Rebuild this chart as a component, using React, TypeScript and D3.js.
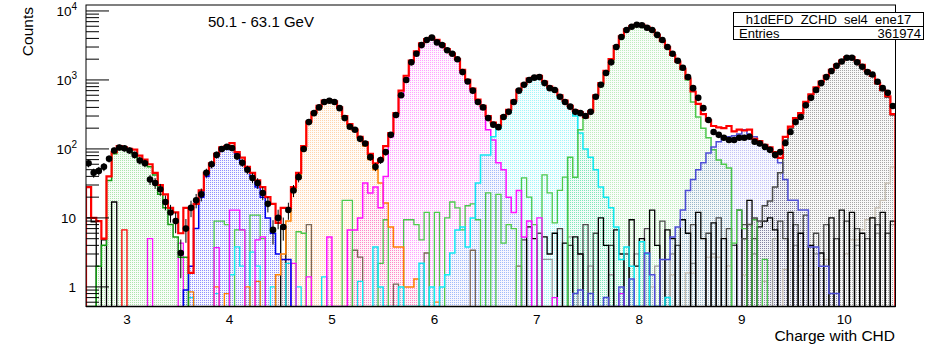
import * as d3 from "d3";
import React from "react";

// binning of the charge axis
const X_MIN = 2.6;
const BIN_W = 0.05;
const N_BINS = 158;

// data points (black markers)
const dataCounts = [
  62, 45, 48, 55, 72, 95, 105, 102, 95, 82, 68, 62, 36, 32, 26, 17, 12, 9, 3.1, 7,
  14, 18, 22, 45, 60, 82, 100, 107, 103, 78, 63, 50, 38, 32, 23, 16, 6.7, 10, 7.4, 13,
  25, 39, 100, 245, 330, 400, 480, 500, 480, 390, 280, 210, 190, 140, 120, 76, 55, 69, 90, 160,
  310, 600, 1000, 1800, 2400, 3200, 3800, 4100, 3500, 3200, 2700, 2400, 2000, 1300, 950, 700, 480, 400, 280, 225,
  207, 290, 345, 480, 700, 850, 1000, 1080, 1100, 900, 760, 716, 570, 480, 410, 345, 330, 300, 345, 570,
  850, 1260, 1800, 3000, 4200, 5300, 5900, 6300, 6200, 5700, 5300, 4500, 3800, 3000, 2400, 1900, 1500, 1100, 760, 550,
  390, 263, 176, 160, 145, 135, 135, 145, 145, 150, 127, 120, 107, 97, 82, 90, 122, 176, 245, 290,
  430, 550, 716, 900, 1100, 1350, 1600, 1850, 2100, 2100, 1800, 1550, 1300, 1200, 940, 760, 650, 420,
];

// total of the templates (red line)
const totalCounts = [
  28, 10, 9, 5, 40, 90, 110, 105, 100, 98, 80, 70, 60, 45, 30, 22, 14, 12, 6, 14,
  1.6, 16, 25, 45, 62, 85, 105, 110, 122, 90, 75, 55, 45, 35, 28, 20, 16, 8.5, 14, 14,
  28, 45, 110, 250, 340, 420, 500, 510, 490, 400, 300, 230, 190, 150, 125, 85, 62, 70, 110, 170,
  330, 700, 1150, 1900, 2600, 3400, 3900, 4100, 3800, 3300, 2800, 2400, 2000, 1400, 1000, 750, 520, 420, 300, 240,
  220, 300, 370, 500, 720, 880, 1050, 1100, 1150, 950, 800, 720, 600, 500, 420, 360, 340, 290, 350, 600,
  900, 1350, 2000, 3100, 4300, 5400, 6000, 6300, 6300, 5900, 5300, 4500, 3700, 3000, 2300, 1850, 1450, 1050, 680, 450,
  320, 260, 215, 205, 200, 215, 180, 190, 185, 190, 140, 130, 115, 105, 90, 74, 150, 210, 280, 330,
  480, 620, 780, 950, 1150, 1400, 1650, 1900, 2150, 2150, 1900, 1650, 1350, 1150, 900, 720, 580, 320,
];

// charge templates: first bin index + counts
const z3Start = 0;
const z3Counts = [0, 0, 2, 4, 35, 85, 100, 98, 95, 85, 70, 65, 55, 42, 22, 14, 8, 5.3, 2.7, 2.7];
const z4Start = 19;
const z4Counts = [0.9, 2, 7, 20, 40, 58, 80, 98, 105, 100, 85, 65, 52, 40, 28, 20, 10, 6, 3, 2.5, 2.5];
const z5Start = 37;
const z5Counts = [1.5, 3, 9, 25, 38, 100, 240, 330, 400, 480, 500, 480, 390, 280, 215, 185, 140, 110, 70, 50, 32, 16.5, 7.4, 3.8, 3.8, 1, 1, 1.3];
const z6Start = 47;
const z6Counts = [
  5.3, 0, 0, 0, 6.7, 6.7, 10, 32, 23, 28, 14, 40, 150, 300, 600, 1050, 1800, 2500, 3300, 3800,
  4000, 3700, 3200, 2700, 2350, 1950, 1300, 950, 700, 480, 380, 189, 135, 63, 50, 20, 12, 25, 5.3, 9,
];
const z7Start = 56;
const z7Counts = [
  3.8, 1, 0, 0, 0, 1, 0, 0, 0, 2.2, 0, 1, 0, 1, 1.5, 3.1, 6.7, 7.4, 3.8, 10,
  32, 82, 82, 150, 200, 280, 340, 470, 700, 840, 1000, 1080, 1100, 900, 750, 700, 560, 470, 400, 300,
  170, 100, 76, 50, 28, 20, 14, 7.4, 2.5, 3.8, 2, 0, 4.5, 3, 0, 0, 0, 0.7,
];
const z8Start = 94;
const z8Counts = [
  76, 39, 190, 280, 345, 570, 850, 1260, 1800, 3000, 4200, 5300, 5900, 6300, 6200, 5700, 5200, 4400, 3600, 2900,
  2300, 1800, 1400, 1000, 480, 290, 200, 145, 97, 69, 60, 53,
];
const z9Start = 95;
const z9Counts = [
  0.8, 0.9, 0, 0.8, 0, 0, 0.7, 0, 0, 1, 0, 1.3, 0, 0, 3.1, 1.5, 0, 2.5, 2.5, 5.3,
  7.4, 13, 25, 36, 50, 63, 87, 107, 127, 145, 150, 155, 165, 190, 165, 150, 125, 114, 100, 87,
  63, 36, 18, 18, 13, 13, 3.8, 3.8, 2, 2, 0.8, 0.8,
];
const z10Start = 128;
const z10Counts = [
  5, 8, 10, 9, 15, 17.6, 28, 45, 135, 200, 270, 320, 470, 610, 770, 940, 1130, 1380, 1630, 1880,
  2130, 2130, 1880, 1630, 1330, 1130, 880, 700, 560, 310,
];

// small contributions: [bin index, counts]
const noiseBlack: [number, number][] = [
  [0, 10], [1, 8.8], [3, 4.8], [5, 17], [38, 7.4], [86, 7.4], [87, 5], [89, 5.3], [90, 3], [91, 6], [93, 4.3],
  [95, 5.3], [96, 3], [100, 10], [101, 4], [103, 6.7], [104, 3], [106, 9.4], [107, 2], [108, 5], [110, 13],
  [111, 4], [113, 6.7], [114, 5], [116, 9.4], [117, 6], [119, 12], [120, 5], [122, 8.5], [124, 5], [127, 13],
  [129, 18], [131, 7.4], [132, 9], [133, 10], [134, 6.7], [137, 12], [139, 6], [141, 4], [143, 3.1], [145, 10],
  [147, 13], [149, 12], [151, 6], [153, 10], [155, 12], [157, 9],
];
const noiseDark: [number, number][] = [
  [85, 4.8], [88, 6], [92, 7], [94, 4], [97, 8], [99, 6], [102, 4], [105, 3], [109, 7], [112, 9], [115, 4],
  [118, 8], [121, 6], [123, 10], [125, 7], [126, 4], [128, 8], [130, 5], [135, 9], [136, 5], [138, 8], [140, 11],
  [142, 6], [144, 8], [146, 5], [148, 9], [150, 7], [152, 5], [154, 8], [156, 6],
];
const noiseBrown: [number, number][] = [[43, 8], [52, 3.4], [53, 2.7], [60, 1.1], [66, 3.1], [75, 3.4], [84, 2]];
const noiseGray: [number, number][] = [
  [89, 2.5], [90, 2.5], [94, 5.3], [96, 3], [98, 2], [102, 1.5], [107, 3], [111, 2], [114, 3], [118, 2.2],
  [122, 3], [126, 4], [130, 3], [134, 5], [138, 4], [142, 3], [146, 5], [150, 4], [154, 6], [157, 8],
];
const noiseBeige: [number, number][] = [
  [110, 1], [114, 1.5], [117, 1.6], [118, 1.6], [121, 2.7], [122, 2.7], [123, 2.7], [125, 2], [128, 1.5],
  [132, 1.2], [136, 1.8], [139, 2], [141, 1.5], [144, 2.5], [148, 3], [149, 4.8], [150, 4.8], [151, 6.7],
  [152, 9.4], [153, 10], [154, 14], [155, 18], [156, 32], [157, 55],
];
const noiseGreen: [number, number][] = [
  [25, 9], [26, 9], [27, 8], [29, 6.7], [30, 6.7], [32, 11], [33, 11], [34, 5], [41, 6.3], [42, 6], [50, 18],
  [51, 18], [57, 2.2], [58, 9.4], [62, 9.4], [63, 9.4], [64, 8], [65, 4.8], [66, 12], [68, 12], [70, 10],
  [71, 17], [72, 14], [73, 6.7], [74, 15], [75, 16], [76, 9.4], [78, 23], [80, 22], [81, 4.3], [82, 8], [83, 7],
  [85, 38], [86, 20], [87, 8], [89, 42], [90, 23], [91, 8.5], [92, 25], [93, 39], [126, 4.3], [127, 13],
  [128, 7], [130, 9.4], [132, 2.5],
];
const noiseMagenta: [number, number][] = [
  [12, 5], [18, 4.3], [25, 3.7], [28, 13], [29, 13], [30, 6.7], [33, 4.8], [34, 5.3], [40, 2.2], [43, 1.4],
  [88, 10], [91, 0.7], [104, 0.8],
];
const noiseCyan: [number, number][] = [
  [20, 0.7], [25, 0.8], [28, 1.5], [29, 3.8], [30, 2], [32, 3.2], [33, 2], [36, 1], [39, 2.2], [41, 1], [46, 1.4], [53, 1.2],
];
const noiseOrange: [number, number][] = [[20, 0.85], [25, 1], [27, 0.8], [31, 1], [33, 1.2], [68, 0.6]];
const noiseRed: [number, number][] = [[7, 6.7]];

const xTicks = [3, 4, 5, 6, 7, 8, 9, 10];
const yMajor = [1, 10, 100, 1000, 10000];
const yMinorMult = [2, 3, 4, 5, 6, 7, 8, 9];

const W = 925, H = 348;
const frame = { left: 86, right: 895.5, top: 5, bottom: 306.5 };

const x = d3.scaleLinear().domain([X_MIN, X_MIN + BIN_W * N_BINS]).range([frame.left, frame.right]);
const y = d3.scaleLog().domain([0.52, 12200]).range([frame.bottom, frame.top]);
const edge = (i: number) => x(X_MIN + i * BIN_W);
const yc = (v: number) => (v > 0 ? Math.min(y(v), frame.bottom) : frame.bottom);

function stepPath(start: number, counts: number[], closed: boolean) {
  let d = `M${edge(start)},${frame.bottom}`;
  counts.forEach((c, k) => {
    const yy = yc(c);
    d += `L${edge(start + k)},${yy}L${edge(start + k + 1)},${yy}`;
  });
  d += `L${edge(start + counts.length)},${frame.bottom}`;
  return closed ? d + "Z" : d;
}

function sparsePaths(pairs: [number, number][]) {
  const sorted = [...pairs].sort((a, b) => a[0] - b[0]);
  const runs: { start: number; counts: number[] }[] = [];
  sorted.forEach(([i, v]) => {
    const last = runs[runs.length - 1];
    if (last && last.start + last.counts.length === i) last.counts.push(v);
    else runs.push({ start: i, counts: [v] });
  });
  return runs.map(r => stepPath(r.start, r.counts, false));
}

const components = [
  { id: "z3", start: z3Start, counts: z3Counts, fill: "#20b820", line: "#109a10", dot: 0.35 },
  { id: "z4", start: z4Start, counts: z4Counts, fill: "#0000ff", line: "#0000ee", dot: 0.42 },
  { id: "z5", start: z5Start, counts: z5Counts, fill: "#ff8a1a", line: "#ff8000", dot: 0.35 },
  { id: "z6", start: z6Start, counts: z6Counts, fill: "#ff00ff", line: "#ff10ff", dot: 0.35 },
  { id: "z7", start: z7Start, counts: z7Counts, fill: "#00e8f0", line: "#10e8f2", dot: 0.35 },
  { id: "z8", start: z8Start, counts: z8Counts, fill: "#40c840", line: "#4cc84c", dot: 0.32 },
  { id: "z9", start: z9Start, counts: z9Counts, fill: "#5050e0", line: "#4d4dd6", dot: 0.32 },
  { id: "z10", start: z10Start, counts: z10Counts, fill: "#202020", line: "#4a4a4a", dot: 0.38 },
];

const noise = [
  { pairs: noiseBeige, color: "#c8bfb2" },
  { pairs: noiseGray, color: "#999999" },
  { pairs: noiseDark, color: "#4a4a4a" },
  { pairs: noiseBrown, color: "#7a6656" },
  { pairs: noiseBlack, color: "#000000" },
  { pairs: noiseGreen, color: "#4cc84c" },
  { pairs: noiseCyan, color: "#10e8f2" },
  { pairs: noiseOrange, color: "#ff8000" },
  { pairs: noiseMagenta, color: "#ff10ff" },
  { pairs: noiseRed, color: "#ff0000" },
];

const font = "'Liberation Sans', Arial, Helvetica, sans-serif";

export default function App() {
  const yMinor: number[] = [];
  [0.1, 1, 10, 100, 1000, 10000].forEach(dec =>
    yMinorMult.forEach(m => {
      const v = dec * m;
      if (v > 0.52 && v < 12200) yMinor.push(v);
    })
  );

  return (
    <svg width={W} height={H} style={{ position: "absolute", left: 0, top: 0, background: "#fff" }} fontFamily={font}>
      <defs>
        <clipPath id="plot">
          <rect x={frame.left} y={frame.top} width={frame.right - frame.left} height={frame.bottom - frame.top} />
        </clipPath>
        {components.map(c => (
          <pattern key={c.id} id={`pat-${c.id}`} width={2} height={2} patternUnits="userSpaceOnUse">
            <rect width={2} height={2} fill={c.fill} opacity={0.03} />
            <rect width={1} height={1} fill={c.fill} opacity={c.dot} />
          </pattern>
        ))}
      </defs>

      <g clipPath="url(#plot)">
        {components.map(c => (
          <path key={c.id} d={stepPath(c.start, c.counts, true)} fill={`url(#pat-${c.id})`} stroke="none" />
        ))}
        {noise.map((n, k) =>
          sparsePaths(n.pairs).map((d, j) => (
            <path key={`${k}-${j}`} d={d} fill="none" stroke={n.color} strokeWidth={1.3} />
          ))
        )}
        {components.map(c => (
          <path key={`l-${c.id}`} d={stepPath(c.start, c.counts, false)} fill="none" stroke={c.line} strokeWidth={1.5} />
        ))}
        <path d={stepPath(0, totalCounts, false)} fill="none" stroke="#ff0000" strokeWidth={2.2} />
        {dataCounts.map((v, i) => {
          const cx = x(X_MIN + (i + 0.5) * BIN_W);
          const e = Math.sqrt(v);
          return (
            <g key={i}>
              <line x1={cx} x2={cx} y1={yc(v + e)} y2={yc(v - e)} stroke="#000" strokeWidth={1} />
              <circle cx={cx} cy={y(v)} r={3.3} fill="#000" />
            </g>
          );
        })}
      </g>

      {/* frame */}
      <rect x={frame.left} y={frame.top} width={frame.right - frame.left} height={frame.bottom - frame.top} fill="none" stroke="#000" strokeWidth={1} />
      <line x1={frame.left} x2={frame.right} y1={frame.bottom} y2={frame.bottom} stroke="#000" strokeWidth={1.6} />

      {/* y axis ticks */}
      {yMajor.map(v => (
        <line key={`M${v}`} x1={frame.left} x2={frame.left + 23} y1={y(v)} y2={y(v)} stroke="#000" strokeWidth={1} />
      ))}
      {yMinor.map(v => (
        <line key={`m${v}`} x1={frame.left} x2={frame.left + 13} y1={y(v)} y2={y(v)} stroke="#000" strokeWidth={1} />
      ))}
      {yMajor.map(v => {
        const p = Math.round(Math.log10(v));
        const yy = y(v) + 5;
        if (p === 0) return <text key={`t${v}`} x={76} y={yy} textAnchor="end" fontSize={13.5}>1</text>;
        if (p === 1) return <text key={`t${v}`} x={76} y={yy} textAnchor="end" fontSize={13.5}>10</text>;
        return (
          <text key={`t${v}`} x={77} y={yy} textAnchor="end" fontSize={13.5}>
            10<tspan dy={-6} fontSize={10}>{p}</tspan>
          </text>
        );
      })}

      {/* x axis labels */}
      {xTicks.map(t => (
        <text key={t} x={x(t)} y={324} textAnchor="middle" fontSize={13.5}>{t}</text>
      ))}

      <text x={895} y={341} textAnchor="end" fontSize={15.5}>Charge with CHD</text>
      <text transform="translate(33,7) rotate(-90)" textAnchor="end" fontSize={15.5}>Counts</text>
      <text x={208} y={27} fontSize={15}>50.1 - 63.1 GeV</text>

      {/* stats box */}
      <rect x={733.5} y={12.5} width={190} height={27} fill="#fff" stroke="#000" strokeWidth={1} />
      <line x1={733.5} x2={923.5} y1={26.5} y2={26.5} stroke="#000" strokeWidth={1} />
      <text x={828.5} y={24} textAnchor="middle" fontSize={13}>h1dEFD_ZCHD_sel4_ene17</text>
      <text x={739} y={37.5} fontSize={13}>Entries</text>
      <text x={921} y={37.5} textAnchor="end" fontSize={13}>361974</text>
    </svg>
  );
}
